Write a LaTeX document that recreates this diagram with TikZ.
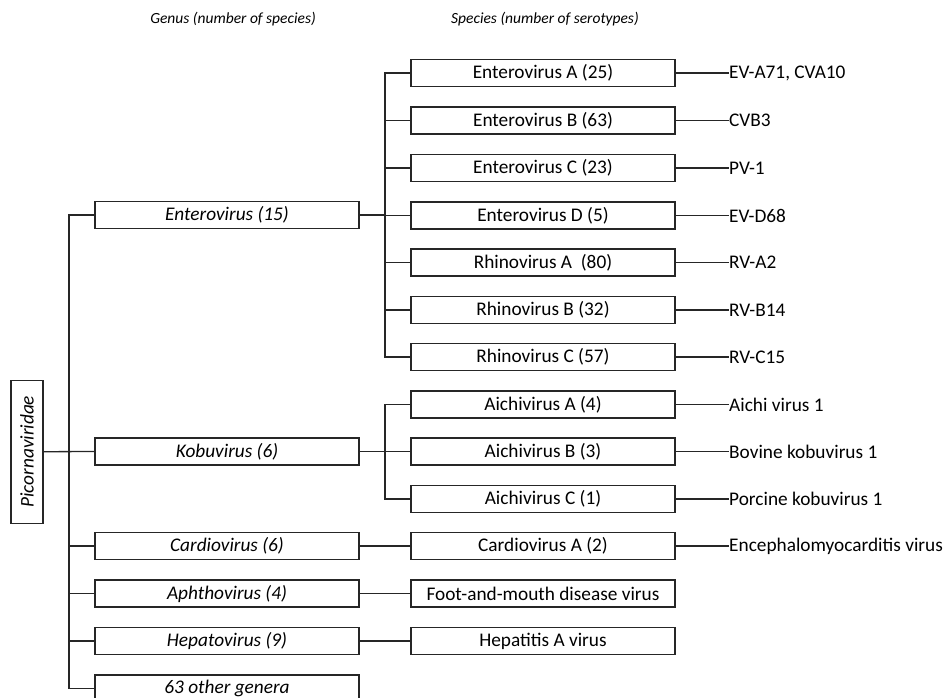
\documentclass[tikz,border=0pt]{standalone}
\usepackage{fontspec}
\setmainfont{Carlito}
\begin{document}
\begin{tikzpicture}[x=1pt,y=-1pt,
  box/.style={draw=black!85,line width=1.3pt,minimum width=264pt,minimum height=27pt,inner sep=0pt,font=\fontsize{19.3}{22}\selectfont},
  genbox/.style={box,font=\fontsize{19.3}{22}\selectfont\itshape},
  sero/.style={anchor=west,inner sep=0pt,font=\fontsize{19.3}{22}\selectfont},
  hdr/.style={font=\fontsize{15.5}{18}\selectfont\itshape,inner sep=0pt},
  conn/.style={draw=black!85,line width=1.3pt}]
\useasboundingbox (0,0) rectangle (948,697);
% headers
\node[hdr] (h1) at (233,19) {Genus (number of species)};
\node[hdr,anchor=west] (h2) at (451,19) {Species (number of serotypes)};
% family
\node[draw=black!85,line width=1.3pt,minimum width=143pt,minimum height=32pt,inner sep=0pt,rotate=90,font=\fontsize{19.3}{22}\selectfont\itshape] (fam) at (27,451.7) {Picornaviridae};
% genera
\node[genbox] (g1) at (227,215) {Enterovirus (15)};
\node[genbox] (g2) at (227,451.5) {Kobuvirus (6)};
\node[genbox] (g3) at (227,546) {Cardiovirus (6)};
\node[genbox] (g4) at (227,593.5) {Aphthovirus (4)};
\node[genbox] (g5) at (227,641) {Hepatovirus (9)};
\node[genbox] (g6) at (227,688.5) {63 other genera};
% species
\node[box] (s1) at (543,73) {Enterovirus A (25)};
\node[box] (s2) at (543,120.5) {Enterovirus B (63)};
\node[box] (s3) at (543,168) {Enterovirus C (23)};
\node[box] (s4) at (543,215.5) {Enterovirus D (5)};
\node[box] (s5) at (543,262.5) {Rhinovirus A\ \ (80)};
\node[box] (s6) at (543,310) {Rhinovirus B (32)};
\node[box] (s7) at (543,357) {Rhinovirus C (57)};
\node[box] (s8) at (543,404.5) {Aichivirus A (4)};
\node[box] (s9) at (543,451.5) {Aichivirus B (3)};
\node[box] (s10) at (543,499) {Aichivirus C (1)};
\node[box] (s11) at (543,546) {Cardiovirus A (2)};
\node[box] (s12) at (543,593.5) {Foot-and-mouth disease virus};
\node[box] (s13) at (543,641) {Hepatitis A virus};
% serotypes
\node[sero] (t1) at (729,73) {EV-A71, CVA10};
\node[sero] (t2) at (729,120.5) {CVB3};
\node[sero] (t3) at (729,168) {PV-1};
\node[sero] (t4) at (729,215.5) {EV-D68};
\node[sero] (t5) at (729,262.5) {RV-A2};
\node[sero] (t6) at (729,310) {RV-B14};
\node[sero] (t7) at (729,357) {RV-C15};
\node[sero] (t8) at (729,404.5) {Aichi virus 1};
\node[sero] (t9) at (729,451.5) {Bovine kobuvirus 1};
\node[sero] (t10) at (729,499) {Porcine kobuvirus 1};
\node[sero] (t11) at (729,546) {Encephalomyocarditis virus};
% trunk coordinates
\coordinate (gt) at (69,451.5);
\coordinate (et) at (385,215);
\coordinate (kt) at (385,451.5);
% family to genera
\draw[conn] (fam.south) -- (g2.west);
\draw[conn] (g1.west) -| (gt) |- (g6.west);
\foreach \g in {g3,g4,g5} \draw[conn] (\g.west) -- (\g.west -| gt);
% enterovirus species
\draw[conn] (g1.east) -- (et);
\draw[conn] (s1.west) -| (et) |- (s7.west);
\foreach \s in {s2,s3,s4,s5,s6} \draw[conn] (\s.west) -- (\s.west -| et);
% kobuvirus species
\draw[conn] (g2.east) -- (s9.west);
\draw[conn] (s8.west) -| (kt) |- (s10.west);
% single species
\draw[conn] (g3.east) -- (s11.west);
\draw[conn] (g4.east) -- (s12.west);
\draw[conn] (g5.east) -- (s13.west);
% serotypes
\foreach \i in {1,...,11} \draw[conn,line width=1.1pt] (s\i.east) -- (t\i.west);
\end{tikzpicture}
\end{document}
